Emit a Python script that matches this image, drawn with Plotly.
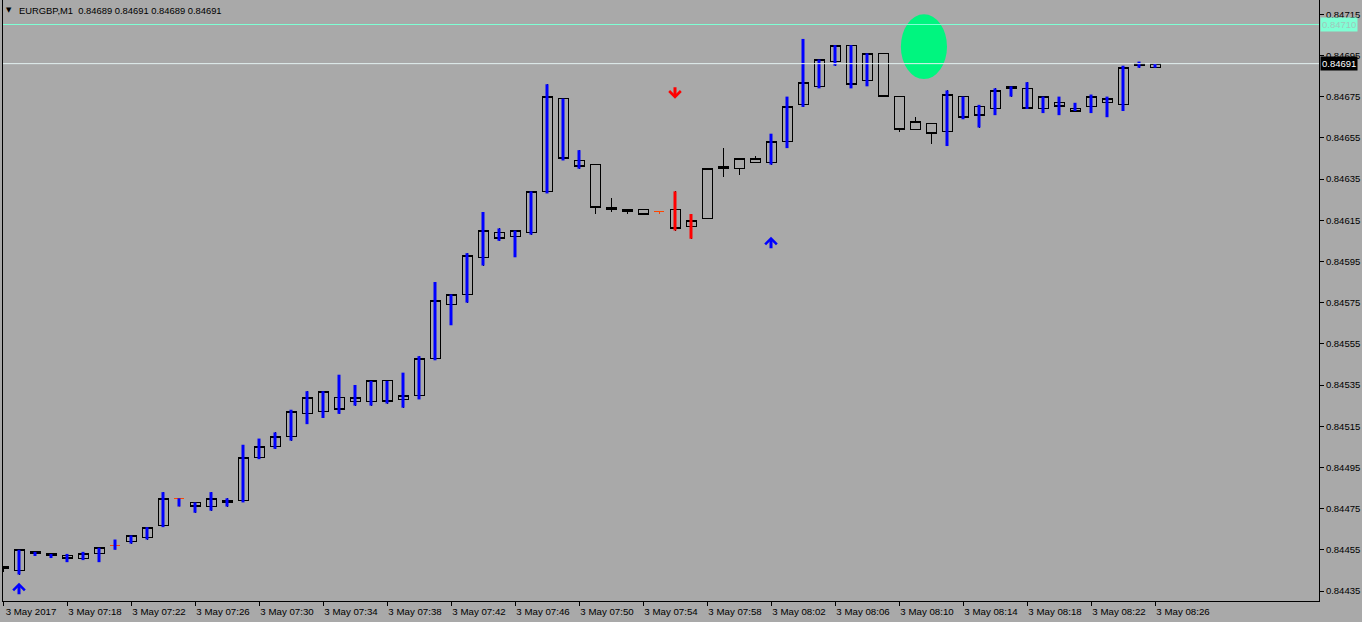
import plotly.graph_objects as go
import pandas as pd

# ---------------- data ----------------
symbol = "EURGBP,M1"
times = pd.date_range("2017-05-03 07:14", "2017-05-03 08:26", freq="min")

opens = [0.84447, 0.84445, 0.84454, 0.84453, 0.84452, 0.84451, 0.84453, 0.84457, 0.84459, 0.84461,
         0.84467, 0.84480, 0.84478, 0.84476, 0.84479, 0.84479, 0.84500, 0.84505, 0.84510, 0.84521,
         0.84522, 0.84529, 0.84527, 0.84527, 0.84537, 0.84528, 0.84530, 0.84548, 0.84574, 0.84579,
         0.84597, 0.84609, 0.84607, 0.84609, 0.84629, 0.84674, 0.84644, 0.84642, 0.84621, 0.84620,
         0.84620, 0.84619, 0.84620, 0.84612, 0.84616, 0.84640, 0.84640, 0.84643, 0.84643, 0.84653,
         0.84671, 0.84680, 0.84692, 0.84700, 0.84683, 0.84696, 0.84675, 0.84659, 0.84662, 0.84658,
         0.84675, 0.84670, 0.84669, 0.84679, 0.84679, 0.84669, 0.84672, 0.84669, 0.84670, 0.84672,
         0.84671, 0.84690, 0.84689]
highs = [0.84447, 0.84455, 0.84454, 0.84453, 0.84453, 0.84454, 0.84456, 0.84460, 0.84462, 0.84466,
         0.84483, 0.84480, 0.84478, 0.84483, 0.84480, 0.84506, 0.84509, 0.84512, 0.84523, 0.84532,
         0.84532, 0.84540, 0.84535, 0.84537, 0.84537, 0.84541, 0.84549, 0.84585, 0.84579, 0.84599,
         0.84619, 0.84611, 0.84610, 0.84629, 0.84681, 0.84674, 0.84649, 0.84642, 0.84626, 0.84620,
         0.84620, 0.84619, 0.84629, 0.84618, 0.84640, 0.84650, 0.84645, 0.84646, 0.84657, 0.84675,
         0.84703, 0.84693, 0.84700, 0.84700, 0.84696, 0.84696, 0.84675, 0.84665, 0.84662, 0.84678,
         0.84675, 0.84671, 0.84679, 0.84680, 0.84682, 0.84675, 0.84675, 0.84672, 0.84676, 0.84675,
         0.84690, 0.84692, 0.84691]
lows = [0.84444, 0.84443, 0.84452, 0.84451, 0.84449, 0.84450, 0.84449, 0.84455, 0.84458, 0.84460,
        0.84466, 0.84476, 0.84473, 0.84474, 0.84476, 0.84478, 0.84499, 0.84504, 0.84508, 0.84516,
        0.84519, 0.84521, 0.84525, 0.84525, 0.84526, 0.84524, 0.84528, 0.84547, 0.84564, 0.84575,
        0.84593, 0.84605, 0.84597, 0.84608, 0.84628, 0.84644, 0.84640, 0.84618, 0.84619, 0.84618,
        0.84618, 0.84618, 0.84610, 0.84606, 0.84616, 0.84636, 0.84637, 0.84643, 0.84642, 0.84650,
        0.84670, 0.84679, 0.84690, 0.84679, 0.84680, 0.84675, 0.84658, 0.84659, 0.84652, 0.84651,
        0.84664, 0.84660, 0.84666, 0.84675, 0.84669, 0.84667, 0.84666, 0.84668, 0.84667, 0.84665,
        0.84668, 0.84689, 0.84689]
closes = [0.84446, 0.84455, 0.84453, 0.84452, 0.84451, 0.84453, 0.84456, 0.84457, 0.84462, 0.84466,
          0.84480, 0.84480, 0.84476, 0.84480, 0.84478, 0.84500, 0.84505, 0.84510, 0.84522, 0.84529,
          0.84532, 0.84523, 0.84529, 0.84537, 0.84527, 0.84530, 0.84548, 0.84576, 0.84579, 0.84598,
          0.84610, 0.84606, 0.84610, 0.84629, 0.84675, 0.84645, 0.84641, 0.84621, 0.84620, 0.84619,
          0.84618, 0.84619, 0.84611, 0.84615, 0.84640, 0.84641, 0.84645, 0.84645, 0.84653, 0.84670,
          0.84682, 0.84693, 0.84700, 0.84681, 0.84696, 0.84675, 0.84659, 0.84663, 0.84657, 0.84676,
          0.84665, 0.84666, 0.84678, 0.84680, 0.84669, 0.84675, 0.84670, 0.84668, 0.84675, 0.84674,
          0.84689, 0.84691, 0.84691]

# indicator state painted over each bar ("up" blue, "dn" red, "-" nothing)
trend_state = (["-"] + ["up"] * 36 + ["-"] * 5 + ["dn"] * 2 + ["-"] * 4
               + ["up"] * 7 + ["-"] * 4 + ["up"] * 14)

# signal arrows
buy_times = ["2017-05-03 07:15", "2017-05-03 08:02"]
buy_prices = [0.84439, 0.84607]
sell_times = ["2017-05-03 07:56"]
sell_prices = [0.84674]

# horizontal price lines
level_line = 0.84710
bid_line = closes[-1]

# tick labels
x_tick_times = times[::4]
x_tick_labels = ["3 May 2017", "3 May 07:18", "3 May 07:22", "3 May 07:26", "3 May 07:30",
                 "3 May 07:34", "3 May 07:38", "3 May 07:42", "3 May 07:46", "3 May 07:50",
                 "3 May 07:54", "3 May 07:58", "3 May 08:02", "3 May 08:06", "3 May 08:10",
                 "3 May 08:14", "3 May 08:18", "3 May 08:22", "3 May 08:26"]

# ---------------- styles ----------------
BG = "#A9A9A9"
FONT = "Liberation Sans"
state_colors = {"up": "#0000FF", "dn": "#FF0000"}

fig = go.Figure()

# main candles: hollow, black outline
fig.add_trace(go.Candlestick(
    x=times, open=opens, high=highs, low=lows, close=closes,
    increasing=dict(line=dict(color="black", width=1), fillcolor="rgba(0,0,0,0)"),
    decreasing=dict(line=dict(color="black", width=1), fillcolor="rgba(0,0,0,0)"),
    whiskerwidth=0, hoverinfo="skip", showlegend=False))

# doji bars in orange-red
doji = [o == c for o, c in zip(opens, closes)]
fig.add_trace(go.Candlestick(
    x=times,
    open=[o if d else None for o, d in zip(opens, doji)],
    high=[h if d else None for h, d in zip(highs, doji)],
    low=[l if d else None for l, d in zip(lows, doji)],
    close=[c if d else None for c, d in zip(closes, doji)],
    increasing=dict(line=dict(color="#FF4500", width=1), fillcolor="rgba(0,0,0,0)"),
    decreasing=dict(line=dict(color="#FF4500", width=1), fillcolor="rgba(0,0,0,0)"),
    whiskerwidth=0, hoverinfo="skip", showlegend=False))

# indicator high-low overlays
for state, color in state_colors.items():
    xs, ys = [], []
    for t, h, l, s in zip(times, highs, lows, trend_state):
        if s == state:
            xs += [t, t, None]
            ys += [l, h, None]
    fig.add_trace(go.Scatter(x=xs, y=ys, mode="lines", line=dict(color=color, width=3),
                             hoverinfo="skip", showlegend=False))

# arrows
for t, p in zip(buy_times, buy_prices):
    fig.add_annotation(x=t, y=p, xref="x", yref="y", text="", showarrow=True,
                       arrowhead=4, arrowwidth=3, arrowsize=0.75, arrowcolor="#0000FF",
                       ax=0, ay=13, standoff=0)
for t, p in zip(sell_times, sell_prices):
    fig.add_annotation(x=t, y=p, xref="x", yref="y", text="", showarrow=True,
                       arrowhead=4, arrowwidth=3, arrowsize=0.75, arrowcolor="#FF0000",
                       ax=0, ay=-13, standoff=0)

# ellipse object
fig.add_shape(type="circle", xref="x", yref="y",
              x0="2017-05-03 08:10:07", x1="2017-05-03 08:13:00",
              y0=0.846835, y1=0.84715,
              fillcolor="#00F57F", line=dict(width=0), layer="below")

# horizontal lines
fig.add_shape(type="line", xref="paper", yref="y", x0=0, x1=1, y0=level_line, y1=level_line,
              line=dict(color="#7FFFD4", width=1))
fig.add_shape(type="line", xref="paper", yref="y", x0=0, x1=1, y0=bid_line, y1=bid_line,
              line=dict(color="#E4F2F2", width=1))

# price labels on the right
fig.add_annotation(x=1, y=level_line, xref="paper", yref="y", text=f"{level_line:.5f}",
                   showarrow=False, xanchor="left", xshift=1, bgcolor="#7FFFD4",
                   borderpad=1, font=dict(family=FONT, size=9.5, color="#A0C8BC"))
fig.add_annotation(x=1, y=bid_line, xref="paper", yref="y", text=f"{bid_line:.5f}",
                   showarrow=False, xanchor="left", xshift=1, bgcolor="black",
                   borderpad=1, font=dict(family=FONT, size=9.5, color="white"))

# header text
header = (f"{symbol}\u00a0\u00a0{opens[-1]:.5f} {highs[-1]:.5f} "
          f"{lows[-1]:.5f} {closes[-1]:.5f}")
fig.add_annotation(x=0, y=1, xref="paper", yref="paper", text=header, showarrow=False,
                   xanchor="left", yanchor="top", xshift=14, yshift=-3,
                   font=dict(family=FONT, size=9.4, color="black"))
fig.add_annotation(x=0, y=1, xref="paper", yref="paper", text="▼", showarrow=False,
                   xanchor="left", yanchor="top", xshift=1, yshift=-4,
                   font=dict(family="DejaVu Sans", size=7, color="black"))

fig.update_layout(
    width=1362, height=622, autosize=False,
    margin=dict(l=3, r=43, t=0, b=21, pad=0, autoexpand=False),
    paper_bgcolor=BG, plot_bgcolor=BG,
    showlegend=False, boxgap=0.375, boxgroupgap=0,
    font=dict(family=FONT, size=10, color="black"),
    xaxis=dict(type="date", range=["2017-05-03 07:14:00", "2017-05-03 08:36:15"],
               rangeslider=dict(visible=False), showgrid=False, zeroline=False,
               automargin=False,
               showline=True, linecolor="black", linewidth=1,
               ticks="outside", ticklen=4, tickcolor="black",
               tickvals=list(x_tick_times), ticktext=x_tick_labels,
               ticklabelshift=28, ticklabelstandoff=-3,
               tickfont=dict(family=FONT, size=9.7, color="black")),
    yaxis=dict(side="right", range=[0.8443015, 0.8472190], showgrid=False, zeroline=False,
               automargin=False,
               showline=True, mirror=True, linecolor="black", linewidth=1,
               ticks="outside", ticklen=4, tickcolor="black",
               tick0=0.84435, dtick=0.0002, tickformat=".5f",
               tickfont=dict(family=FONT, size=9.5, color="black")),
)

post = ("document.body.style.margin='0';document.body.style.overflow='hidden';"
        "var s=document.createElement('style');"
        "s.textContent='.boxlayer path{shape-rendering:crispEdges}';"
        "document.head.appendChild(s);")
fig.write_html("out.html", config={"displayModeBar": False}, post_script=post)
